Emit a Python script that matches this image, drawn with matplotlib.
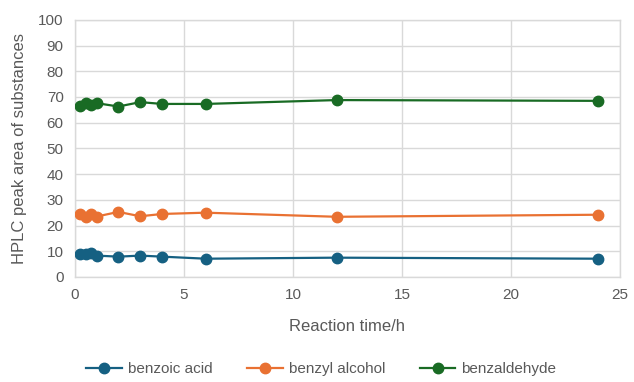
import matplotlib
matplotlib.use("Agg")
import matplotlib.pyplot as plt

time_h = [0.25, 0.5, 0.75, 1, 2, 3, 4, 6, 12, 24]
benzoic_acid = [9.0, 8.8, 9.2, 8.3, 7.9, 8.3, 7.9, 7.1, 7.5, 7.1]
benzyl_alcohol = [24.5, 23.4, 24.3, 23.5, 25.3, 23.6, 24.5, 25.0, 23.4, 24.2]
benzaldehyde = [66.5, 67.6, 66.8, 67.6, 66.3, 68.0, 67.3, 67.3, 68.8, 68.5]

series = [
    ("benzoic acid", benzoic_acid, "#156082"),
    ("benzyl alcohol", benzyl_alcohol, "#E97132"),
    ("benzaldehyde", benzaldehyde, "#196B24"),
]

plt.rcParams['font.family'] = ['Liberation Sans', 'DejaVu Sans']
text_color = "#595959"
grid_color = "#d9d9d9"

fig = plt.figure(figsize=(6.34, 3.82), dpi=100)
ax = fig.add_axes([0.118, 0.275, 0.86, 0.673])

for name, vals, color in series:
    ax.plot(time_h, vals, color=color, lw=1.6, marker='o', markersize=7.5,
            label=name, zorder=3)

ax.set_xlim(0, 25)
ax.set_ylim(0, 100)
ax.set_xticks(range(0, 26, 5))
ax.set_yticks(range(0, 101, 10))
ax.grid(True, color=grid_color, lw=1)
ax.set_axisbelow(True)
for s in ax.spines.values():
    s.set_color(grid_color)
    s.set_linewidth(1)
ax.tick_params(length=0, colors=text_color, labelsize=11, pad=8)

ax.set_xlabel("Reaction time/h", color=text_color, fontsize=12, labelpad=12)
ax.set_ylabel("HPLC peak area of substances", color=text_color, fontsize=12, labelpad=8)

fig.legend(loc='lower center', bbox_to_anchor=(0.507, -0.02), ncol=3, frameon=False,
           fontsize=11, labelcolor=text_color, handlelength=2.3, handletextpad=0.4,
           columnspacing=2.3)

fig.savefig("out.png", dpi=100)
